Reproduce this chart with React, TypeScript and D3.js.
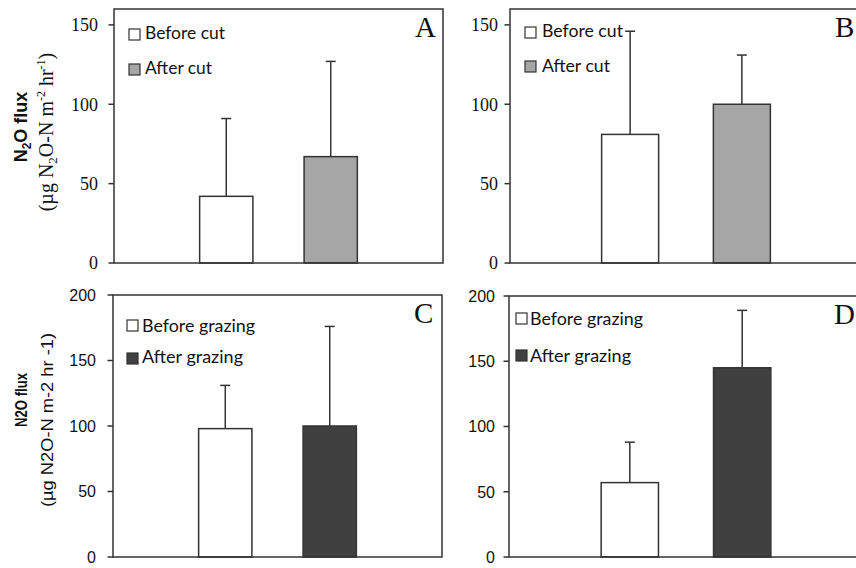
import React from "react";
import * as d3 from "d3";

// N2O flux before/after management events (mean + SD)
const panelIds = ["A", "B", "C", "D"];
const beforeMeans = [42, 81, 98, 57];
const beforeSD = [49, 65, 33, 31];
const afterMeans = [67, 100, 100, 145];
const afterSD = [60, 31, 76, 44];
const legendBefore = ["Before cut", "Before cut", "Before grazing", "Before grazing"];
const legendAfter = ["After cut", "After cut", "After grazing", "After grazing"];
const yMax = [160, 160, 200, 200];
const yTicksCut = [0, 50, 100, 150];
const yTicksGrazing = [0, 50, 100, 150, 200];

const W = 856;
const H = 568;
const INK = "#333";

type Layout = {
  left: number; right: number; top: number; bottom: number;
  afterFill: string; tickFont: string; tickSize: number; tickRight: number;
  legX: number; legTextX: number; legY: [number, number]; legBase: [number, number];
  legLen: [number, number];
};

const layouts: Layout[] = [
  { left: 114, right: 443, top: 9, bottom: 263, afterFill: "#a6a6a6",
    tickFont: "'Liberation Serif', serif", tickSize: 18, tickRight: 98,
    legX: 129, legTextX: 145, legY: [29, 64], legBase: [39, 74], legLen: [80, 67] },
  { left: 510, right: 862, top: 9, bottom: 263, afterFill: "#a6a6a6",
    tickFont: "'Liberation Serif', serif", tickSize: 18, tickRight: 498,
    legX: 525, legTextX: 542, legY: [27, 61], legBase: [37, 72], legLen: [81, 68] },
  { left: 113, right: 442, top: 295, bottom: 557, afterFill: "#404040",
    tickFont: "'Liberation Sans', sans-serif", tickSize: 16, tickRight: 96,
    legX: 127, legTextX: 142, legY: [320, 353], legBase: [332, 363], legLen: [113, 101] },
  { left: 509, right: 863, top: 296, bottom: 557, afterFill: "#404040",
    tickFont: "'Liberation Sans', sans-serif", tickSize: 16, tickRight: 495,
    legX: 516, legTextX: 530, legY: [313, 350], legBase: [325, 362], legLen: [113, 101] },
];

const legendFont = "Lato, 'Open Sans', sans-serif";

function Panel({ i }: { i: number }) {
  const L = layouts[i];
  const ticks = i < 2 ? yTicksCut : yTicksGrazing;
  const y = d3.scaleLinear().domain([0, yMax[i]]).range([L.bottom, L.top]);
  const x = d3
    .scaleBand<string>()
    .domain(["before", "after"])
    .range([L.left, L.right])
    .paddingInner(0.49)
    .paddingOuter(0.82);
  const bars = [
    { key: "before", mean: beforeMeans[i], sd: beforeSD[i], fill: "#ffffff" },
    { key: "after", mean: afterMeans[i], sd: afterSD[i], fill: L.afterFill },
  ];
  const bw = x.bandwidth();
  return (
    <g>
      {/* bars */}
      {bars.map((b) => (
        <rect key={b.key} x={x(b.key)} y={y(b.mean)} width={bw}
          height={y(0) - y(b.mean)} fill={b.fill} stroke={INK} strokeWidth={1.5} />
      ))}
      {/* upper error bars */}
      {bars.map((b) => {
        const cx = (x(b.key) as number) + bw / 2;
        return (
          <g key={b.key + "-err"} stroke={INK} strokeWidth={1.5}>
            <line x1={cx} x2={cx} y1={y(b.mean)} y2={y(b.mean + b.sd)} />
            <line x1={cx - 5} x2={cx + 5} y1={y(b.mean + b.sd)} y2={y(b.mean + b.sd)} />
          </g>
        );
      })}
      {/* frame */}
      <rect x={L.left} y={L.top} width={L.right - L.left} height={L.bottom - L.top}
        fill="none" stroke={INK} strokeWidth={1.5} />
      {/* y axis ticks */}
      {ticks.map((t) => (
        <g key={t}>
          <line x1={L.left - 5.5} x2={L.left} y1={y(t)} y2={y(t)} stroke={INK} strokeWidth={1.5} />
          <text x={L.tickRight} y={y(t)} dy="0.36em" textAnchor="end"
            fontFamily={L.tickFont} fontSize={L.tickSize} fill="#111">{t}</text>
        </g>
      ))}
      {/* legend */}
      {[0, 1].map((r) => (
        <g key={"leg" + r}>
          <rect x={L.legX} y={L.legY[r]} width={11} height={11}
            fill={r === 0 ? "#ffffff" : L.afterFill} stroke={INK} strokeWidth={1.2} />
          <text x={L.legTextX} y={L.legBase[r]} fontFamily={legendFont} fontSize={17}
            textLength={L.legLen[r]} lengthAdjust="spacingAndGlyphs" fill="#111">
            {r === 0 ? legendBefore[i] : legendAfter[i]}
          </text>
        </g>
      ))}
      {/* panel letter */}
      <text x={L.left + (i % 2 === 0 ? 301 : 325)} y={L.top + 28}
        fontFamily="'Liberation Serif', serif" fontSize={29} fill="#111">{panelIds[i]}</text>
    </g>
  );
}

export default function App() {
  return (
    <svg width={W} height={H} viewBox={`0 0 ${W} ${H}`}
      style={{ position: "absolute", left: 0, top: 0, background: "#fff", overflow: "hidden" }}>
      <rect x={0} y={0} width={W} height={H} fill="#fff" />
      {panelIds.map((_, i) => <Panel key={i} i={i} />)}

      {/* y-axis title, top row */}
      <g transform="translate(27,127) rotate(-90)">
        <text textAnchor="middle" fontFamily="'Liberation Sans', sans-serif" fontWeight="bold"
          fontSize={18} fill="#111">
          N<tspan fontSize={12} dy={4}>2</tspan><tspan dy={-4}>O flux</tspan>
        </text>
      </g>
      <g transform="translate(53,132) rotate(-90)">
        <text textAnchor="middle" fontFamily="'Liberation Serif', serif" fontSize={20} fill="#111">
          (µg N<tspan fontSize={13} dy={4}>2</tspan><tspan dy={-4}>O-N m</tspan>
          <tspan fontSize={12} dy={-8}>-2</tspan><tspan dy={8}> hr</tspan>
          <tspan fontSize={12} dy={-8}>-1</tspan><tspan dy={8}>)</tspan>
        </text>
      </g>

      {/* y-axis title, bottom row */}
      <g transform="translate(27,400) rotate(-90)">
        <text textAnchor="middle" fontFamily="'Liberation Sans', sans-serif" fontWeight="bold"
          fontSize={16} textLength={54} lengthAdjust="spacingAndGlyphs" fill="#111">
          N2O flux
        </text>
      </g>
      <g transform="translate(53,420) rotate(-90)">
        <text textAnchor="middle" fontFamily="'Liberation Sans', sans-serif" fontSize={17}
          textLength={174} lengthAdjust="spacingAndGlyphs" fill="#111">
          (µg N2O-N m-2 hr -1)
        </text>
      </g>
    </svg>
  );
}
